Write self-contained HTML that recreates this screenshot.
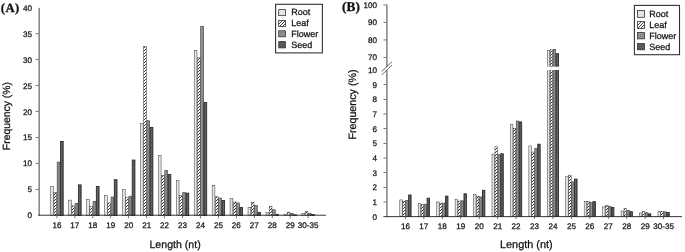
<!DOCTYPE html>
<html><head><meta charset="utf-8"><title>Length distribution</title>
<style>
html,body{margin:0;padding:0;background:#fff;}
body{width:685px;height:252px;overflow:hidden;}
svg{display:block;}
text{font-family:"Liberation Sans",Arial,sans-serif;fill:#111;stroke:#111;stroke-width:0.25px;text-rendering:geometricPrecision;}
.pl{font-family:"Liberation Serif","Times New Roman",serif;font-weight:bold;font-size:13.3px;letter-spacing:0.15px;fill:#111;stroke-width:0.3px;}
.tk{font-size:8.1px;}
.lg{font-size:9px;}
.ax{font-size:10px;}
</style></head><body>
<svg width="685" height="252" viewBox="0 0 685 252">
<defs>
<pattern id="pr" width="4" height="4" patternUnits="userSpaceOnUse"><rect width="4" height="4" fill="#e4e4e4"/></pattern>
<pattern id="pl" width="3" height="3" patternUnits="userSpaceOnUse"><rect width="3" height="3" fill="#fff"/><path d="M-0.5,3.5 L3.5,-0.5 M-0.5,0.5 L0.5,-0.5 M2.5,3.5 L3.5,2.5" stroke="#333" stroke-width="0.95"/></pattern>
<pattern id="pf" width="2" height="2" patternUnits="userSpaceOnUse"><rect width="2" height="2" fill="#949494"/><rect width="1" height="1" fill="#7c7c7c"/></pattern>
<pattern id="ps" width="2" height="2" patternUnits="userSpaceOnUse"><rect width="2" height="2" fill="#606060"/><rect width="1" height="1" fill="#484848"/></pattern>
</defs>
<rect width="685" height="252" fill="#fff"/>
<g id="chartA">
<text class="pl" style="font-size:12.7px;letter-spacing:0.45px" x="0.8" y="11.75">(A)</text>
<rect x="50.69" y="186.68" width="2.75" height="28.72" fill="url(#pr)" stroke="#383838" stroke-width="0.5"/>
<rect x="53.94" y="192.63" width="2.75" height="22.77" fill="url(#pl)" stroke="#333" stroke-width="0.5"/>
<rect x="57.19" y="162.10" width="2.75" height="53.30" fill="url(#pf)" stroke="#484848" stroke-width="0.7"/>
<rect x="60.44" y="141.40" width="2.75" height="74.00" fill="url(#ps)" stroke="#222" stroke-width="0.8"/>
<rect x="68.63" y="200.13" width="2.75" height="15.27" fill="url(#pr)" stroke="#383838" stroke-width="0.5"/>
<rect x="71.88" y="205.77" width="2.75" height="9.63" fill="url(#pl)" stroke="#333" stroke-width="0.5"/>
<rect x="75.13" y="203.50" width="2.75" height="11.90" fill="url(#pf)" stroke="#484848" stroke-width="0.7"/>
<rect x="78.38" y="184.87" width="2.75" height="30.53" fill="url(#ps)" stroke="#222" stroke-width="0.8"/>
<rect x="86.57" y="199.46" width="2.75" height="15.94" fill="url(#pr)" stroke="#383838" stroke-width="0.5"/>
<rect x="89.82" y="206.60" width="2.75" height="8.80" fill="url(#pl)" stroke="#333" stroke-width="0.5"/>
<rect x="93.07" y="201.43" width="2.75" height="13.97" fill="url(#pf)" stroke="#484848" stroke-width="0.7"/>
<rect x="96.32" y="186.42" width="2.75" height="28.98" fill="url(#ps)" stroke="#222" stroke-width="0.8"/>
<rect x="104.51" y="195.42" width="2.75" height="19.98" fill="url(#pr)" stroke="#383838" stroke-width="0.5"/>
<rect x="107.76" y="202.98" width="2.75" height="12.42" fill="url(#pl)" stroke="#333" stroke-width="0.5"/>
<rect x="111.01" y="197.03" width="2.75" height="18.37" fill="url(#pf)" stroke="#484848" stroke-width="0.7"/>
<rect x="114.26" y="179.69" width="2.75" height="35.71" fill="url(#ps)" stroke="#222" stroke-width="0.8"/>
<rect x="122.45" y="189.63" width="2.75" height="25.77" fill="url(#pr)" stroke="#383838" stroke-width="0.5"/>
<rect x="125.70" y="197.81" width="2.75" height="17.59" fill="url(#pl)" stroke="#333" stroke-width="0.5"/>
<rect x="128.95" y="196.25" width="2.75" height="19.15" fill="url(#pf)" stroke="#484848" stroke-width="0.7"/>
<rect x="132.20" y="160.03" width="2.75" height="55.37" fill="url(#ps)" stroke="#222" stroke-width="0.8"/>
<rect x="140.39" y="123.29" width="2.75" height="92.11" fill="url(#pr)" stroke="#383838" stroke-width="0.5"/>
<rect x="143.64" y="46.69" width="2.75" height="168.71" fill="url(#pl)" stroke="#333" stroke-width="0.5"/>
<rect x="146.89" y="120.70" width="2.75" height="94.70" fill="url(#pf)" stroke="#484848" stroke-width="0.7"/>
<rect x="150.14" y="127.43" width="2.75" height="87.97" fill="url(#ps)" stroke="#222" stroke-width="0.8"/>
<rect x="158.33" y="155.37" width="2.75" height="60.03" fill="url(#pr)" stroke="#383838" stroke-width="0.5"/>
<rect x="161.58" y="175.29" width="2.75" height="40.11" fill="url(#pl)" stroke="#333" stroke-width="0.5"/>
<rect x="164.83" y="170.38" width="2.75" height="45.02" fill="url(#pf)" stroke="#484848" stroke-width="0.7"/>
<rect x="168.08" y="174.52" width="2.75" height="40.88" fill="url(#ps)" stroke="#222" stroke-width="0.8"/>
<rect x="176.27" y="180.73" width="2.75" height="34.67" fill="url(#pr)" stroke="#383838" stroke-width="0.5"/>
<rect x="179.52" y="195.74" width="2.75" height="19.66" fill="url(#pl)" stroke="#333" stroke-width="0.5"/>
<rect x="182.77" y="192.63" width="2.75" height="22.77" fill="url(#pf)" stroke="#484848" stroke-width="0.7"/>
<rect x="186.02" y="193.15" width="2.75" height="22.25" fill="url(#ps)" stroke="#222" stroke-width="0.8"/>
<rect x="194.21" y="50.32" width="2.75" height="165.08" fill="url(#pr)" stroke="#383838" stroke-width="0.5"/>
<rect x="197.46" y="57.82" width="2.75" height="157.58" fill="url(#pl)" stroke="#333" stroke-width="0.5"/>
<rect x="200.71" y="26.25" width="2.75" height="189.15" fill="url(#pf)" stroke="#484848" stroke-width="0.7"/>
<rect x="203.96" y="102.59" width="2.75" height="112.81" fill="url(#ps)" stroke="#222" stroke-width="0.8"/>
<rect x="212.15" y="185.39" width="2.75" height="30.01" fill="url(#pr)" stroke="#383838" stroke-width="0.5"/>
<rect x="215.40" y="196.77" width="2.75" height="18.63" fill="url(#pl)" stroke="#333" stroke-width="0.5"/>
<rect x="218.65" y="198.06" width="2.75" height="17.34" fill="url(#pf)" stroke="#484848" stroke-width="0.7"/>
<rect x="221.90" y="200.39" width="2.75" height="15.01" fill="url(#ps)" stroke="#222" stroke-width="0.8"/>
<rect x="230.09" y="198.32" width="2.75" height="17.08" fill="url(#pr)" stroke="#383838" stroke-width="0.5"/>
<rect x="233.34" y="201.94" width="2.75" height="13.46" fill="url(#pl)" stroke="#333" stroke-width="0.5"/>
<rect x="236.59" y="202.98" width="2.75" height="12.42" fill="url(#pf)" stroke="#484848" stroke-width="0.7"/>
<rect x="239.84" y="207.38" width="2.75" height="8.02" fill="url(#ps)" stroke="#222" stroke-width="0.8"/>
<rect x="248.03" y="207.38" width="2.75" height="8.02" fill="url(#pr)" stroke="#383838" stroke-width="0.5"/>
<rect x="251.28" y="202.46" width="2.75" height="12.94" fill="url(#pl)" stroke="#333" stroke-width="0.5"/>
<rect x="254.53" y="205.57" width="2.75" height="9.83" fill="url(#pf)" stroke="#484848" stroke-width="0.7"/>
<rect x="257.78" y="212.45" width="2.75" height="2.95" fill="url(#ps)" stroke="#222" stroke-width="0.8"/>
<rect x="265.97" y="212.45" width="2.75" height="2.95" fill="url(#pr)" stroke="#383838" stroke-width="0.5"/>
<rect x="269.22" y="206.29" width="2.75" height="9.11" fill="url(#pl)" stroke="#333" stroke-width="0.5"/>
<rect x="272.47" y="209.81" width="2.75" height="5.59" fill="url(#pf)" stroke="#484848" stroke-width="0.7"/>
<rect x="275.72" y="214.37" width="2.75" height="1.03" fill="url(#ps)" stroke="#222" stroke-width="0.8"/>
<rect x="283.91" y="214.52" width="2.75" height="0.88" fill="url(#pr)" stroke="#383838" stroke-width="0.5"/>
<rect x="287.16" y="212.09" width="2.75" height="3.31" fill="url(#pl)" stroke="#333" stroke-width="0.5"/>
<rect x="290.41" y="213.33" width="2.75" height="2.07" fill="url(#pf)" stroke="#484848" stroke-width="0.7"/>
<rect x="293.66" y="214.88" width="2.75" height="0.52" fill="url(#ps)" stroke="#222" stroke-width="0.8"/>
<rect x="301.85" y="213.33" width="2.75" height="2.07" fill="url(#pr)" stroke="#383838" stroke-width="0.5"/>
<rect x="305.10" y="211.57" width="2.75" height="3.83" fill="url(#pl)" stroke="#333" stroke-width="0.5"/>
<rect x="308.35" y="213.33" width="2.75" height="2.07" fill="url(#pf)" stroke="#484848" stroke-width="0.7"/>
<rect x="311.60" y="214.52" width="2.75" height="0.88" fill="url(#ps)" stroke="#222" stroke-width="0.8"/>
<rect x="38.5" y="7.8" width="1.3" height="207.8" fill="#6e6e6e"/>
<rect x="38.2" y="214.75" width="287.8" height="0.9" fill="#222"/>
<text class="tk" x="32.0" y="218.30" text-anchor="end">0</text>
<rect x="35.6" y="189.06" width="3" height="0.7" fill="#444"/>
<text class="tk" x="32.0" y="192.36" text-anchor="end">5</text>
<rect x="35.6" y="163.12" width="3" height="0.7" fill="#444"/>
<text class="tk" x="32.0" y="166.42" text-anchor="end">10</text>
<rect x="35.6" y="137.18" width="3" height="0.7" fill="#444"/>
<text class="tk" x="32.0" y="140.48" text-anchor="end">15</text>
<rect x="35.6" y="111.24" width="3" height="0.7" fill="#444"/>
<text class="tk" x="32.0" y="114.54" text-anchor="end">20</text>
<rect x="35.6" y="85.30" width="3" height="0.7" fill="#444"/>
<text class="tk" x="32.0" y="88.60" text-anchor="end">25</text>
<rect x="35.6" y="59.36" width="3" height="0.7" fill="#444"/>
<text class="tk" x="32.0" y="62.66" text-anchor="end">30</text>
<rect x="35.6" y="33.42" width="3" height="0.7" fill="#444"/>
<text class="tk" x="32.0" y="36.72" text-anchor="end">35</text>
<text class="tk" x="32.0" y="10.78" text-anchor="end">40</text>
<rect x="56.59" y="215.4" width="0.7" height="2.9" fill="#444"/>
<text class="tk" x="56.94" y="228.4" text-anchor="middle">16</text>
<rect x="74.53" y="215.4" width="0.7" height="2.9" fill="#444"/>
<text class="tk" x="74.88" y="228.4" text-anchor="middle">17</text>
<rect x="92.47" y="215.4" width="0.7" height="2.9" fill="#444"/>
<text class="tk" x="92.82" y="228.4" text-anchor="middle">18</text>
<rect x="110.41" y="215.4" width="0.7" height="2.9" fill="#444"/>
<text class="tk" x="110.76" y="228.4" text-anchor="middle">19</text>
<rect x="128.35" y="215.4" width="0.7" height="2.9" fill="#444"/>
<text class="tk" x="128.70" y="228.4" text-anchor="middle">20</text>
<rect x="146.29" y="215.4" width="0.7" height="2.9" fill="#444"/>
<text class="tk" x="146.64" y="228.4" text-anchor="middle">21</text>
<rect x="164.23" y="215.4" width="0.7" height="2.9" fill="#444"/>
<text class="tk" x="164.58" y="228.4" text-anchor="middle">22</text>
<rect x="182.17" y="215.4" width="0.7" height="2.9" fill="#444"/>
<text class="tk" x="182.52" y="228.4" text-anchor="middle">23</text>
<rect x="200.11" y="215.4" width="0.7" height="2.9" fill="#444"/>
<text class="tk" x="200.46" y="228.4" text-anchor="middle">24</text>
<rect x="218.05" y="215.4" width="0.7" height="2.9" fill="#444"/>
<text class="tk" x="218.40" y="228.4" text-anchor="middle">25</text>
<rect x="235.99" y="215.4" width="0.7" height="2.9" fill="#444"/>
<text class="tk" x="236.34" y="228.4" text-anchor="middle">26</text>
<rect x="253.93" y="215.4" width="0.7" height="2.9" fill="#444"/>
<text class="tk" x="254.28" y="228.4" text-anchor="middle">27</text>
<rect x="271.87" y="215.4" width="0.7" height="2.9" fill="#444"/>
<text class="tk" x="272.22" y="228.4" text-anchor="middle">28</text>
<rect x="289.81" y="215.4" width="0.7" height="2.9" fill="#444"/>
<text class="tk" x="290.16" y="228.4" text-anchor="middle">29</text>
<rect x="307.75" y="215.4" width="0.7" height="2.9" fill="#444"/>
<text class="tk" x="308.10" y="228.4" text-anchor="middle">30-35</text>
<text class="ax" style="font-size:10.6px" x="175.1" y="247.8" text-anchor="middle">Length (nt)</text>
<text class="ax" style="font-size:10.4px" transform="translate(9.5,116.1) rotate(-90)" text-anchor="middle">Frequency (%)</text>
<rect x="275.6" y="4.3" width="46.8" height="48.6" fill="#fff" stroke="#333" stroke-width="1.1"/>
<rect x="278.7" y="9.60" width="6.7" height="6.05" fill="url(#pr)" stroke="#333" stroke-width="0.8"/>
<text class="lg" x="291.2" y="15.25">Root</text>
<rect x="278.7" y="20.40" width="6.7" height="6.05" fill="url(#pl)" stroke="#333" stroke-width="0.8"/>
<text class="lg" x="291.2" y="26.05">Leaf</text>
<rect x="278.7" y="30.80" width="6.7" height="6.00" fill="url(#pf)" stroke="#333" stroke-width="0.8"/>
<text class="lg" x="291.2" y="36.70">Flower</text>
<rect x="278.7" y="41.60" width="6.7" height="6.30" fill="url(#ps)" stroke="#333" stroke-width="0.8"/>
<text class="lg" x="291.2" y="47.50">Seed</text>
</g>
<g id="chartB">
<text class="pl" x="341.9" y="10.7">(B)</text>
<rect x="399.79" y="199.90" width="2.45" height="16.30" fill="url(#pr)" stroke="#383838" stroke-width="0.5"/>
<rect x="402.74" y="201.36" width="2.45" height="14.84" fill="url(#pl)" stroke="#333" stroke-width="0.5"/>
<rect x="405.69" y="200.49" width="2.45" height="15.71" fill="url(#pf)" stroke="#484848" stroke-width="0.7"/>
<rect x="408.64" y="194.96" width="2.45" height="21.24" fill="url(#ps)" stroke="#222" stroke-width="0.8"/>
<rect x="418.23" y="203.54" width="2.45" height="12.66" fill="url(#pr)" stroke="#383838" stroke-width="0.5"/>
<rect x="421.18" y="204.71" width="2.45" height="11.49" fill="url(#pl)" stroke="#333" stroke-width="0.5"/>
<rect x="424.13" y="204.27" width="2.45" height="11.93" fill="url(#pf)" stroke="#484848" stroke-width="0.7"/>
<rect x="427.08" y="198.16" width="2.45" height="18.04" fill="url(#ps)" stroke="#222" stroke-width="0.8"/>
<rect x="436.67" y="201.94" width="2.45" height="14.26" fill="url(#pr)" stroke="#383838" stroke-width="0.5"/>
<rect x="439.62" y="203.40" width="2.45" height="12.80" fill="url(#pl)" stroke="#333" stroke-width="0.5"/>
<rect x="442.57" y="203.10" width="2.45" height="13.09" fill="url(#pf)" stroke="#484848" stroke-width="0.7"/>
<rect x="445.52" y="196.12" width="2.45" height="20.08" fill="url(#ps)" stroke="#222" stroke-width="0.8"/>
<rect x="455.11" y="199.18" width="2.45" height="17.02" fill="url(#pr)" stroke="#383838" stroke-width="0.5"/>
<rect x="458.06" y="201.07" width="2.45" height="15.13" fill="url(#pl)" stroke="#333" stroke-width="0.5"/>
<rect x="461.01" y="200.78" width="2.45" height="15.42" fill="url(#pf)" stroke="#484848" stroke-width="0.7"/>
<rect x="463.96" y="193.79" width="2.45" height="22.41" fill="url(#ps)" stroke="#222" stroke-width="0.8"/>
<rect x="473.55" y="194.38" width="2.45" height="21.82" fill="url(#pr)" stroke="#383838" stroke-width="0.5"/>
<rect x="476.50" y="196.12" width="2.45" height="20.08" fill="url(#pl)" stroke="#333" stroke-width="0.5"/>
<rect x="479.45" y="196.99" width="2.45" height="19.21" fill="url(#pf)" stroke="#484848" stroke-width="0.7"/>
<rect x="482.40" y="190.30" width="2.45" height="25.90" fill="url(#ps)" stroke="#222" stroke-width="0.8"/>
<rect x="491.99" y="154.07" width="2.45" height="62.13" fill="url(#pr)" stroke="#383838" stroke-width="0.5"/>
<rect x="494.94" y="146.80" width="2.45" height="69.40" fill="url(#pl)" stroke="#333" stroke-width="0.5"/>
<rect x="497.89" y="154.65" width="2.45" height="61.55" fill="url(#pf)" stroke="#484848" stroke-width="0.7"/>
<rect x="500.84" y="153.78" width="2.45" height="62.42" fill="url(#ps)" stroke="#222" stroke-width="0.8"/>
<rect x="510.43" y="124.53" width="2.45" height="91.67" fill="url(#pr)" stroke="#383838" stroke-width="0.5"/>
<rect x="513.38" y="128.46" width="2.45" height="87.74" fill="url(#pl)" stroke="#333" stroke-width="0.5"/>
<rect x="516.33" y="121.04" width="2.45" height="95.16" fill="url(#pf)" stroke="#484848" stroke-width="0.7"/>
<rect x="519.28" y="121.92" width="2.45" height="94.28" fill="url(#ps)" stroke="#222" stroke-width="0.8"/>
<rect x="528.87" y="145.92" width="2.45" height="70.28" fill="url(#pr)" stroke="#383838" stroke-width="0.5"/>
<rect x="531.82" y="152.03" width="2.45" height="64.17" fill="url(#pl)" stroke="#333" stroke-width="0.5"/>
<rect x="534.77" y="148.54" width="2.45" height="67.66" fill="url(#pf)" stroke="#484848" stroke-width="0.7"/>
<rect x="537.72" y="144.18" width="2.45" height="72.02" fill="url(#ps)" stroke="#222" stroke-width="0.8"/>
<rect x="547.31" y="50.20" width="2.45" height="166.00" fill="url(#pr)" stroke="#383838" stroke-width="0.5"/>
<rect x="550.26" y="49.80" width="2.45" height="166.40" fill="url(#pl)" stroke="#333" stroke-width="0.5"/>
<rect x="553.21" y="49.60" width="2.45" height="166.60" fill="url(#pf)" stroke="#484848" stroke-width="0.7"/>
<rect x="556.16" y="53.70" width="2.45" height="162.50" fill="url(#ps)" stroke="#222" stroke-width="0.8"/>
<rect x="565.75" y="176.19" width="2.45" height="40.01" fill="url(#pr)" stroke="#383838" stroke-width="0.5"/>
<rect x="568.70" y="175.17" width="2.45" height="41.03" fill="url(#pl)" stroke="#333" stroke-width="0.5"/>
<rect x="571.65" y="181.86" width="2.45" height="34.34" fill="url(#pf)" stroke="#484848" stroke-width="0.7"/>
<rect x="574.60" y="179.10" width="2.45" height="37.10" fill="url(#ps)" stroke="#222" stroke-width="0.8"/>
<rect x="584.19" y="201.65" width="2.45" height="14.55" fill="url(#pr)" stroke="#383838" stroke-width="0.5"/>
<rect x="587.14" y="201.36" width="2.45" height="14.84" fill="url(#pl)" stroke="#333" stroke-width="0.5"/>
<rect x="590.09" y="202.52" width="2.45" height="13.68" fill="url(#pf)" stroke="#484848" stroke-width="0.7"/>
<rect x="593.04" y="201.65" width="2.45" height="14.55" fill="url(#ps)" stroke="#222" stroke-width="0.8"/>
<rect x="602.63" y="206.89" width="2.45" height="9.31" fill="url(#pr)" stroke="#383838" stroke-width="0.5"/>
<rect x="605.58" y="205.72" width="2.45" height="10.48" fill="url(#pl)" stroke="#333" stroke-width="0.5"/>
<rect x="608.53" y="206.60" width="2.45" height="9.60" fill="url(#pf)" stroke="#484848" stroke-width="0.7"/>
<rect x="611.48" y="207.47" width="2.45" height="8.73" fill="url(#ps)" stroke="#222" stroke-width="0.8"/>
<rect x="621.07" y="210.96" width="2.45" height="5.24" fill="url(#pr)" stroke="#383838" stroke-width="0.5"/>
<rect x="624.02" y="208.63" width="2.45" height="7.57" fill="url(#pl)" stroke="#333" stroke-width="0.5"/>
<rect x="626.97" y="210.38" width="2.45" height="5.82" fill="url(#pf)" stroke="#484848" stroke-width="0.7"/>
<rect x="629.92" y="211.69" width="2.45" height="4.51" fill="url(#ps)" stroke="#222" stroke-width="0.8"/>
<rect x="639.51" y="213.00" width="2.45" height="3.20" fill="url(#pr)" stroke="#383838" stroke-width="0.5"/>
<rect x="642.46" y="211.69" width="2.45" height="4.51" fill="url(#pl)" stroke="#333" stroke-width="0.5"/>
<rect x="645.41" y="212.71" width="2.45" height="3.49" fill="url(#pf)" stroke="#484848" stroke-width="0.7"/>
<rect x="648.36" y="213.87" width="2.45" height="2.33" fill="url(#ps)" stroke="#222" stroke-width="0.8"/>
<rect x="657.95" y="211.69" width="2.45" height="4.51" fill="url(#pr)" stroke="#383838" stroke-width="0.5"/>
<rect x="660.90" y="211.25" width="2.45" height="4.95" fill="url(#pl)" stroke="#333" stroke-width="0.5"/>
<rect x="663.85" y="211.83" width="2.45" height="4.37" fill="url(#pf)" stroke="#484848" stroke-width="0.7"/>
<rect x="666.80" y="212.56" width="2.45" height="3.64" fill="url(#ps)" stroke="#222" stroke-width="0.8"/>
<rect x="545.96" y="66.7" width="14" height="3.3" fill="#fff"/>
<rect x="386.25" y="4.5" width="1.3" height="212.6" fill="#6e6e6e"/>
<rect x="383.3" y="216.2" width="298.7" height="0.9" fill="#222"/>
<rect x="385.5" y="66.9" width="3" height="3.2" fill="#fff"/>
<path d="M381.6,71.6 L392,61.7 M381.9,74.9 L392,65.1" stroke="#222" stroke-width="0.7" fill="none"/>
<rect x="383.4" y="4.60" width="3" height="0.7" fill="#444"/>
<text class="tk" x="377.0" y="7.60" text-anchor="end">100</text>
<rect x="383.4" y="22.10" width="3" height="0.7" fill="#444"/>
<text class="tk" x="377.0" y="25.10" text-anchor="end">90</text>
<rect x="383.4" y="39.60" width="3" height="0.7" fill="#444"/>
<text class="tk" x="377.0" y="42.60" text-anchor="end">80</text>
<rect x="383.4" y="57.30" width="3" height="0.7" fill="#444"/>
<text class="tk" x="377.0" y="60.30" text-anchor="end">70</text>
<text class="tk" x="377.0" y="219.65" text-anchor="end">0</text>
<rect x="383.4" y="201.68" width="3" height="0.7" fill="#444"/>
<text class="tk" x="377.0" y="204.98" text-anchor="end">1</text>
<rect x="383.4" y="187.01" width="3" height="0.7" fill="#444"/>
<text class="tk" x="377.0" y="190.31" text-anchor="end">2</text>
<rect x="383.4" y="172.34" width="3" height="0.7" fill="#444"/>
<text class="tk" x="377.0" y="175.64" text-anchor="end">3</text>
<rect x="383.4" y="157.67" width="3" height="0.7" fill="#444"/>
<text class="tk" x="377.0" y="160.97" text-anchor="end">4</text>
<rect x="383.4" y="143.00" width="3" height="0.7" fill="#444"/>
<text class="tk" x="377.0" y="146.30" text-anchor="end">5</text>
<rect x="383.4" y="128.33" width="3" height="0.7" fill="#444"/>
<text class="tk" x="377.0" y="131.63" text-anchor="end">6</text>
<rect x="383.4" y="113.66" width="3" height="0.7" fill="#444"/>
<text class="tk" x="377.0" y="116.96" text-anchor="end">7</text>
<rect x="383.4" y="98.99" width="3" height="0.7" fill="#444"/>
<text class="tk" x="377.0" y="102.29" text-anchor="end">8</text>
<rect x="383.4" y="84.32" width="3" height="0.7" fill="#444"/>
<text class="tk" x="377.0" y="87.62" text-anchor="end">9</text>
<text class="tk" x="377.0" y="72.95" text-anchor="end">10</text>
<rect x="405.09" y="216.2" width="0.7" height="2.9" fill="#444"/>
<text class="tk" x="405.44" y="228.6" text-anchor="middle">16</text>
<rect x="423.53" y="216.2" width="0.7" height="2.9" fill="#444"/>
<text class="tk" x="423.88" y="228.6" text-anchor="middle">17</text>
<rect x="441.97" y="216.2" width="0.7" height="2.9" fill="#444"/>
<text class="tk" x="442.32" y="228.6" text-anchor="middle">18</text>
<rect x="460.41" y="216.2" width="0.7" height="2.9" fill="#444"/>
<text class="tk" x="460.76" y="228.6" text-anchor="middle">19</text>
<rect x="478.85" y="216.2" width="0.7" height="2.9" fill="#444"/>
<text class="tk" x="479.20" y="228.6" text-anchor="middle">20</text>
<rect x="497.29" y="216.2" width="0.7" height="2.9" fill="#444"/>
<text class="tk" x="497.64" y="228.6" text-anchor="middle">21</text>
<rect x="515.73" y="216.2" width="0.7" height="2.9" fill="#444"/>
<text class="tk" x="516.08" y="228.6" text-anchor="middle">22</text>
<rect x="534.17" y="216.2" width="0.7" height="2.9" fill="#444"/>
<text class="tk" x="534.52" y="228.6" text-anchor="middle">23</text>
<rect x="552.61" y="216.2" width="0.7" height="2.9" fill="#444"/>
<text class="tk" x="552.96" y="228.6" text-anchor="middle">24</text>
<rect x="571.05" y="216.2" width="0.7" height="2.9" fill="#444"/>
<text class="tk" x="571.40" y="228.6" text-anchor="middle">25</text>
<rect x="589.49" y="216.2" width="0.7" height="2.9" fill="#444"/>
<text class="tk" x="589.84" y="228.6" text-anchor="middle">26</text>
<rect x="607.93" y="216.2" width="0.7" height="2.9" fill="#444"/>
<text class="tk" x="608.28" y="228.6" text-anchor="middle">27</text>
<rect x="626.37" y="216.2" width="0.7" height="2.9" fill="#444"/>
<text class="tk" x="626.72" y="228.6" text-anchor="middle">28</text>
<rect x="644.81" y="216.2" width="0.7" height="2.9" fill="#444"/>
<text class="tk" x="645.16" y="228.6" text-anchor="middle">29</text>
<rect x="663.25" y="216.2" width="0.7" height="2.9" fill="#444"/>
<text class="tk" x="663.60" y="228.6" text-anchor="middle">30-35</text>
<text class="ax" style="font-size:10.9px" x="526.35" y="247.5" text-anchor="middle">Length (nt)</text>
<text class="ax" style="font-size:10.7px" transform="translate(356.2,104.5) rotate(-90)" text-anchor="middle">Frequency (%)</text>
<rect x="634.4" y="5.4" width="45.1" height="49.3" fill="#fff" stroke="#333" stroke-width="1.1"/>
<rect x="637.6" y="10.40" width="7.0" height="6.90" fill="url(#pr)" stroke="#333" stroke-width="0.8"/>
<text class="lg" x="649.3" y="17.30">Root</text>
<rect x="637.6" y="21.60" width="7.0" height="6.80" fill="url(#pl)" stroke="#333" stroke-width="0.8"/>
<text class="lg" x="649.3" y="27.65">Leaf</text>
<rect x="637.6" y="32.40" width="7.0" height="6.45" fill="url(#pf)" stroke="#333" stroke-width="0.8"/>
<text class="lg" x="649.3" y="38.70">Flower</text>
<rect x="637.6" y="43.60" width="7.0" height="6.20" fill="url(#ps)" stroke="#333" stroke-width="0.8"/>
<text class="lg" x="649.3" y="49.65">Seed</text>
</g>
</svg>
</body></html>
